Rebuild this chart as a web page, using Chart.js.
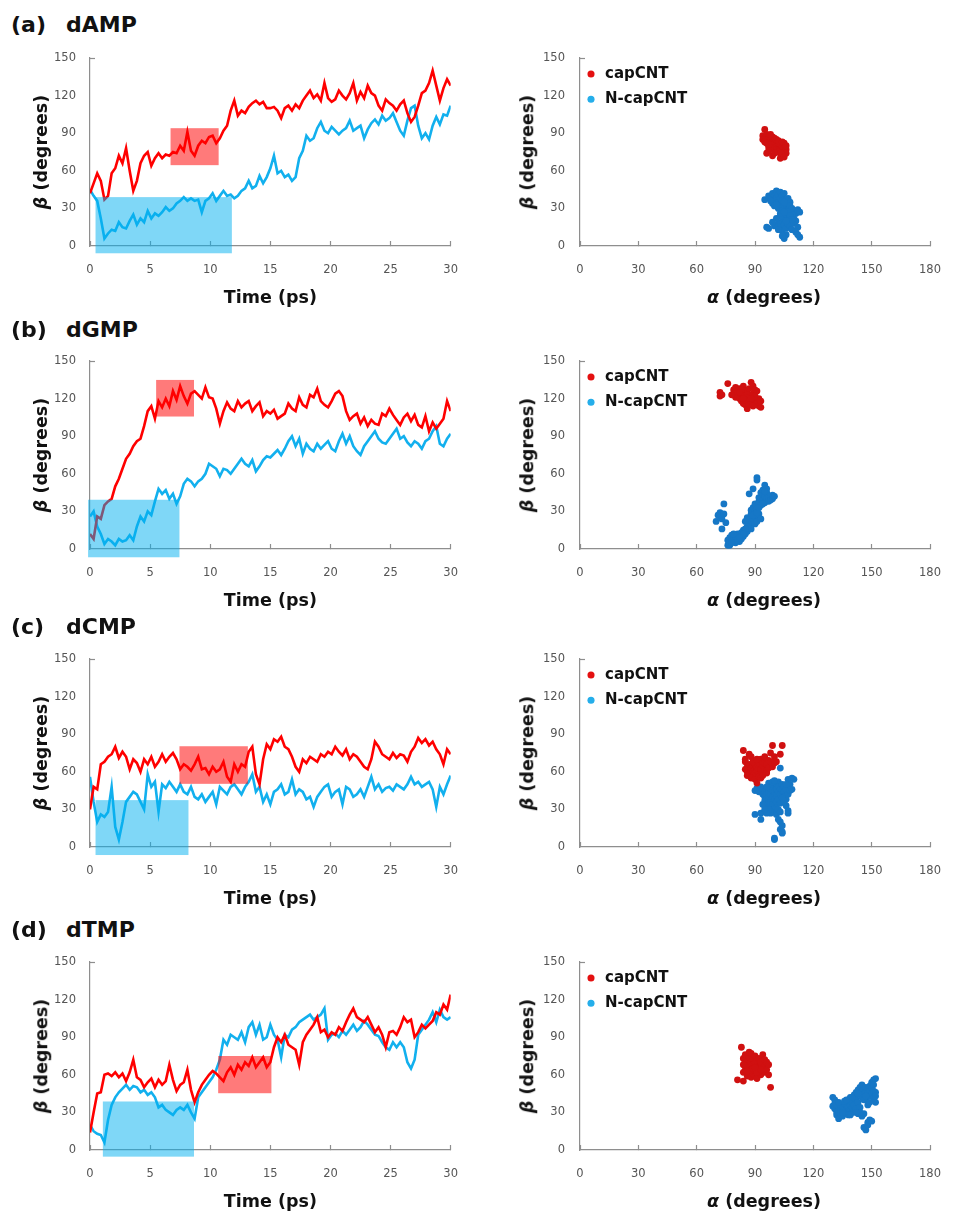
<!DOCTYPE html>
<html>
<head>
<meta charset="utf-8">
<script src="https://cdn.jsdelivr.net/npm/chart.js@4.4.1/dist/chart.umd.min.js"></script>
<style>
  body { margin: 0; background: #fff; width: 963px; height: 1214px; overflow: hidden; position: relative; font-family: "DejaVu Sans", sans-serif; }
  canvas { position: absolute; }
  .tag { position: absolute; font-weight: bold; font-size: 22px; line-height: 1; color: #111; transform: translateY(-50%); white-space: nowrap; }
  .ytitle { position: absolute; font-weight: bold; font-size: 17.5px; line-height: 1; color: #111; white-space: nowrap; transform: translate(-50%, -50%) rotate(-90deg); }
  .xtitle { position: absolute; font-weight: bold; font-size: 17.5px; line-height: 1; color: #111; white-space: nowrap; transform: translate(-50%, -50%); }
</style>
</head>
<body>
<script>
// ---- data ----
var panelTags = ['(a)', '(b)', '(c)', '(d)'];
var panelNames = ['dAMP', 'dGMP', 'dCMP', 'dTMP'];
var seriesNames = ['capCNT', 'N-capCNT'];

var timeTicks = [0, 5, 10, 15, 20, 25, 30];
var alphaTicks = [0, 30, 60, 90, 120, 150, 180];
var betaTicks = [0, 30, 60, 90, 120, 150];

var timePs = [0,0.3,0.6,0.9,1.2,1.5,1.8,2.1,2.4,2.7,3,3.3,3.6,3.9,4.2,4.5,4.8,5.1,5.4,5.7,
  6,6.3,6.6,6.9,7.2,7.5,7.8,8.1,8.4,8.7,9,9.3,9.6,9.9,10.2,10.5,10.8,11.1,11.4,11.7,
  12,12.3,12.6,12.9,13.2,13.5,13.8,14.1,14.4,14.7,15,15.3,15.6,15.9,16.2,16.5,16.8,17.1,17.4,17.7,
  18,18.3,18.6,18.9,19.2,19.5,19.8,20.1,20.4,20.7,21,21.3,21.6,21.9,22.2,22.5,22.8,23.1,23.4,23.7,
  24,24.3,24.6,24.9,25.2,25.5,25.8,26.1,26.4,26.7,27,27.3,27.6,27.9,28.2,28.5,28.8,29.1,29.4,29.7,30];

// beta vs time, capCNT / N-capCNT
var dampCap = [42,50,58,52,37,40,58,62,72,66, 78,60,44,52,66,72,75,64,70,74, 70,73,72,75,74,80,76,91,76,72,
  80,84,82,87,88,82,86,92,96,108, 116,104,108,106,111,114,116,113,115,110, 110,111,108,102,110,112,108,113,110,116,
  120,124,118,121,116,130,118,115,117,124, 120,117,122,130,116,123,118,128,122,120, 112,108,117,114,112,108,113,116,106,99,
  103,112,122,124,130,140,128,116,126,133, 128];
var dampNcap = [45,40,36,22,6,10,13,12,19,15, 14,20,25,17,22,19,28,22,26,24, 27,31,28,30,34,36,39,36,38,36,
  37,27,36,38,42,36,40,44,40,41, 38,40,44,46,52,46,48,56,50,55, 62,72,58,60,55,57,52,55,70,76,
  88,84,86,94,99,92,90,95,92,89, 92,94,100,92,94,96,86,93,98,101, 97,104,100,102,106,99,92,88,100,110,
  112,96,86,90,85,96,103,97,105,104, 112];
var dgmpCap = [12,8,26,24,35,38,40,50,56,64, 72,76,82,86,88,98,110,114,104,118, 113,120,114,126,119,130,122,116,124,126,
  123,120,129,121,120,112,100,110,117,112, 110,118,113,116,118,110,114,117,106,110, 108,111,104,106,108,116,112,110,121,115,
  113,123,121,128,118,115,113,118,124,126, 122,110,103,106,108,100,105,98,103,100, 99,108,106,112,107,103,99,105,108,102,
  107,99,97,106,94,101,96,100,104,118, 110];
var dgmpNcap = [26,30,18,12,4,8,6,3,8,6, 7,11,7,18,26,22,30,27,38,48, 44,47,40,44,36,42,52,56,54,50,
  54,56,60,68,66,64,58,64,63,60, 64,68,72,68,66,71,62,66,71,74, 73,76,79,75,80,86,90,82,88,76,
  84,80,78,84,80,83,86,80,78,86, 92,84,90,82,78,75,82,86,90,94, 88,85,84,88,92,96,88,90,85,82,
  86,84,80,86,88,94,98,84,82,88, 92];
var dcmpCap = [30,48,46,66,68,72,74,80,71,76, 72,62,70,67,60,70,66,72,64,68, 74,68,72,75,70,62,66,64,61,66,
  72,62,63,58,64,60,62,68,56,52, 66,60,66,64,76,80,58,50,70,82, 78,86,84,88,80,78,72,64,60,70,
  67,72,70,68,74,72,76,74,80,76, 73,78,70,74,72,68,64,62,70,84, 80,74,72,70,75,71,74,73,68,76,
  80,87,83,86,81,84,78,74,66,78, 74];
var dcmpNcap = [56,36,20,26,24,28,48,16,6,20, 36,40,44,42,36,30,58,48,52,28, 50,47,52,48,44,50,44,42,48,40,
  38,42,36,40,44,34,48,45,42,48, 50,46,42,48,52,58,44,48,36,42, 34,44,46,50,42,44,54,42,46,44,
  38,40,32,40,44,48,50,40,44,46, 34,48,46,40,42,46,40,48,56,46, 50,44,47,48,45,50,48,46,50,56,
  50,52,48,50,52,46,32,48,42,50, 57];
var dtmpCap = [14,30,45,46,60,61,59,62,58,61, 55,62,72,58,56,50,54,57,50,56, 52,55,68,56,47,52,54,64,48,38,
  46,52,56,60,63,61,58,55,62,66, 60,68,64,70,67,74,66,70,74,66, 70,82,90,86,92,84,82,80,68,86,
  92,96,100,106,94,96,90,94,92,98, 95,102,108,113,106,104,102,106,100,94, 98,92,82,94,95,92,98,106,102,104,
  90,94,100,97,100,103,110,108,116,112, 124];
var dtmpNcap = [20,15,13,12,6,24,36,42,46,49, 52,48,51,50,46,48,44,46,42,34, 36,32,30,28,32,34,32,36,30,25,
  42,46,50,54,58,64,72,88,84,92, 90,88,94,86,98,102,92,100,88,90, 100,92,88,74,92,90,96,98,102,104,
  106,108,104,106,108,113,88,92,93,90, 95,92,96,100,95,98,103,100,96,92, 91,86,82,80,86,82,86,82,70,65,
  72,92,96,100,104,110,102,112,106,104, 106];

// shaded windows [time from, time to, beta from, beta to]
var dampCapBox = [6.7, 10.7, 64.5, 94];
var dampNcapBox = [0.46, 11.8, -5.8, 39];
var dgmpCapBox = [5.5, 8.65, 105.7, 134.9];
var dgmpNcapBox = [-0.16, 7.44, -6.6, 39.3];
var dcmpCapBox = [7.44, 13.13, 50.4, 80.4];
var dcmpNcapBox = [0.46, 8.19, -6.4, 37.4];
var dtmpCapBox = [10.66, 15.09, 45.3, 75];
var dtmpNcapBox = [1.07, 8.65, -5.3, 38.7];

// alpha / beta scatter [alpha, beta]
var dampCapPts = [[95,93],[94,88],[95,86],[96,89],[96,84],[97,87],[97,85],[98,83],[98,86],[99,84],[99,81],[100,83],[100,80],
  [101,82],[101,79],[102,81],[102,78],[103,80],[103,77],[104,79],[104,76],[105,82],[105,78],[105,75],[106,77],[106,74],
  [104,73],[103,70],[99,72],[96,74],[97,79],[98,78],[100,77],[101,76],[102,75],[103,74],[94,85],[95,83],[96,82],[97,81],
  [99,87],[100,86],[98,89],[101,85],[102,84],[104,83],[106,80],[105,71],[100,74],[97,76]];
var dampNcapPts = [[95,37],[97,40],[98,38],[99,42],[100,40],[100,36],[101,44],[101,38],[102,41],[102,35],[103,43],[103,38],
  [103,33],[104,40],[104,36],[105,42],[105,31],[106,37],[106,34],[107,38],[107,29],[108,35],[108,32],[99,34],[98,36],[100,32],
  [102,30],[104,28],[101,33],[105,35],[109,30],[110,28],[111,26],[112,29],[113,27],[110,22],[109,25],[108,20],[107,23],[106,26],
  [105,22],[104,20],[103,24],[102,18],[101,22],[100,16],[99,19],[103,15],[104,12],[105,17],[106,14],[107,18],[108,16],[109,13],
  [110,18],[111,20],[112,15],[111,11],[106,9],[105,6],[104,8],[113,7],[112,9],[97,14],[96,15],[102,13],[103,26],[107,27],
  [108,24],[109,21],[106,20],[105,27]];
var dgmpCapPts = [[72,122],[72,125],[73,123],[76,132],[79,127],[80,124],[80,121],[81,126],[81,123],[82,120],[82,128],[83,124],
  [83,118],[84,130],[84,122],[85,126],[85,119],[85,115],[86,112],[86,124],[87,128],[87,121],[88,117],[88,133],[89,130],[89,124],
  [90,127],[90,119],[91,126],[91,116],[92,120],[92,114],[93,118],[93,113],[83,127],[84,116],[86,118],[82,125],[87,115],[89,114],
  [90,122],[78,123],[80,129],[84,120],[88,120]];
var dgmpNcapPts = [[70,22],[71,27],[72,26],[72,29],[73,16],[73,24],[74,28],[74,36],[75,21],[76,3],[76,7],[77,9],[77,5],[78,8],
  [78,11],[79,6],[79,9],[80,10],[80,7],[81,12],[81,9],[82,6],[82,11],[83,13],[83,8],[84,10],[84,15],[85,12],[85,22],[86,14],
  [86,25],[87,18],[87,23],[87,44],[88,28],[88,20],[88,31],[89,24],[89,33],[89,48],[90,26],[90,30],[90,20],[90,36],[91,22],
  [91,32],[91,57],[91,55],[92,28],[92,38],[92,41],[93,35],[93,45],[93,24],[93,40],[94,39],[94,44],[94,47],[95,37],[95,42],
  [95,51],[96,40],[96,45],[96,48],[97,41],[97,38],[98,42],[98,39],[99,40],[99,43],[100,42],[89,27],[88,16],[86,18],[85,16],
  [91,29],[92,33],[94,36],[95,46],[84,12],[82,9],[80,5],[79,12],[77,3],[78,5]];
var dcmpCapPts = [[84,77],[85,68],[85,62],[86,60],[86,64],[87,58],[87,66],[87,74],[88,61],[88,63],[88,72],[89,60],[89,65],
  [89,57],[90,62],[90,59],[90,66],[91,51],[91,61],[91,64],[92,63],[92,58],[92,67],[93,60],[93,62],[93,70],[94,65],[94,59],
  [94,68],[95,62],[95,70],[95,72],[96,61],[96,66],[96,59],[97,63],[97,69],[98,68],[98,75],[99,81],[99,64],[100,72],[100,67],
  [101,68],[103,74],[104,81],[86,57],[88,55],[90,54],[92,56],[93,55],[94,57],[85,70],[89,68],[91,70]];
var dcmpNcapPts = [[90,26],[93,27],[93,22],[90,45],[91,47],[92,44],[93,48],[94,46],[94,42],[95,44],[95,40],[95,37],[96,46],
  [96,42],[96,38],[96,33],[97,51],[97,44],[97,39],[97,35],[98,47],[98,42],[98,36],[98,31],[99,49],[99,45],[99,40],[99,34],
  [99,29],[100,44],[100,38],[100,33],[100,28],[101,50],[101,46],[101,41],[101,36],[101,31],[102,52],[102,48],[102,44],[102,38],
  [102,22],[103,63],[103,46],[103,42],[103,35],[103,20],[103,14],[104,50],[104,45],[104,17],[104,11],[104,12],[105,48],[105,44],
  [105,40],[106,46],[106,38],[106,33],[107,42],[107,27],[107,29],[107,54],[108,45],[108,50],[109,55],[109,46],[110,54],[100,6],
  [100,7],[98,27],[97,30],[96,27],[94,34],[95,30],[99,52],[100,53],[101,26],[102,30],[103,28],[105,36],[106,50],[104,39],[96,48]];
var dtmpCapPts = [[81,56],[83,82],[84,55],[84,73],[84,62],[85,69],[85,76],[85,64],[86,71],[86,59],[86,67],[87,74],[87,62],
  [87,66],[88,70],[88,58],[88,64],[88,77],[89,72],[89,61],[89,68],[90,75],[90,63],[90,59],[90,69],[91,71],[91,66],[91,57],
  [92,73],[92,62],[92,67],[93,60],[93,70],[94,76],[94,65],[95,72],[95,67],[95,62],[96,70],[96,64],[97,68],[97,60],[98,50],
  [86,63],[87,78],[89,65],[91,62],[93,64],[84,68],[90,66]];
var dtmpNcapPts = [[130,42],[130,35],[131,33],[131,40],[132,30],[132,36],[132,28],[133,34],[133,31],[133,25],[134,33],[134,36],
  [134,29],[135,32],[135,35],[135,27],[136,34],[136,30],[136,37],[137,33],[137,29],[137,36],[138,31],[138,35],[138,40],[139,32],
  [139,36],[139,42],[140,30],[140,34],[140,38],[141,44],[141,31],[141,36],[142,46],[142,33],[142,40],[143,48],[143,38],[143,29],
  [144,50],[144,44],[144,34],[145,52],[145,47],[145,42],[145,27],[146,48],[146,44],[146,29],[146,18],[147,50],[147,46],[147,40],
  [147,16],[148,49],[148,45],[148,22],[148,20],[149,51],[149,47],[149,43],[149,24],[150,54],[150,49],[150,45],[150,23],[151,56],
  [151,52],[151,47],[151,41],[152,57],[152,46],[152,38],[152,43],[131,37],[133,38],[136,39],[138,28],[140,42],[143,45],[146,40],
  [148,36],[144,30],[142,30],[139,28],[135,30],[137,40],[147,43],[149,38]];

var capSeries = [dampCap, dgmpCap, dcmpCap, dtmpCap];
var ncapSeries = [dampNcap, dgmpNcap, dcmpNcap, dtmpNcap];
var capBoxes = [dampCapBox, dgmpCapBox, dcmpCapBox, dtmpCapBox];
var ncapBoxes = [dampNcapBox, dgmpNcapBox, dcmpNcapBox, dtmpNcapBox];
var capPoints = [dampCapPts, dgmpCapPts, dcmpCapPts, dtmpCapPts];
var ncapPoints = [dampNcapPts, dgmpNcapPts, dcmpNcapPts, dtmpNcapPts];

// ---- layout / style ----
var plotTops = [58, 361, 659, 962];
var titleYs = [25, 330, 627, 930];
var plotH = 188;
var axisGray = '#8e8e8e';
var tickColor = '#555';
var lineRed = '#ff0000', lineCyan = '#12b0ee';
var dotRed = '#d01010', dotBlue = '#1677c6';
var legendDots = ['#e41010', '#25aeea'];
var capShade = 'rgba(255,0,0,0.52)', ncapShade = 'rgba(0,176,240,0.5)';

function toXY(xs, ys) { return ys.map(function (v, i) { return { x: xs[i], y: v }; }); }
function toPts(list) { return list.map(function (p) { return { x: p[0], y: p[1] }; }); }

// shaded windows drawn over the lines
var shadePlugin = {
  id: 'shade',
  afterDatasetsDraw: function (chart, args, opts) {
    var xs = chart.scales.x, ys = chart.scales.y, ctx = chart.ctx;
    (opts.boxes || []).forEach(function (b) {
      var x0 = xs.getPixelForValue(b.r[0]), x1 = xs.getPixelForValue(b.r[1]);
      var y0 = ys.getPixelForValue(b.r[2]), y1 = ys.getPixelForValue(b.r[3]);
      ctx.save();
      ctx.fillStyle = b.color;
      ctx.fillRect(x0, y1, x1 - x0, y0 - y1);
      ctx.restore();
    });
  }
};

// put the in-plot legend in the top-left corner
var legendSpot = {
  id: 'legendSpot',
  afterLayout: function (chart) {
    var L = chart.legend;
    if (!L || !L.options.display) return;
    var a = chart.chartArea;
    L.left = a.left - 5.8;
    L.top = a.top - 1.8;
    L.right = a.right;
    L.bottom = a.bottom;
  }
};

function makeScales(xTicks, xTitle, yPad) {
  return {
    x: {
      type: 'linear', min: xTicks[0], max: xTicks[xTicks.length - 1],
      afterBuildTicks: function (s) { s.ticks = xTicks.map(function (v) { return { value: v }; }); },
      ticks: { color: tickColor, font: { family: 'DejaVu Sans', size: 11.5 }, padding: 22, maxRotation: 0, autoSkip: false },
      grid: { drawOnChartArea: false, tickLength: -5, tickColor: axisGray, tickWidth: 1.2 },
      border: { color: axisGray, width: 1.2 },
      title: { display: !!xTitle, text: xTitle || '', color: '#111', font: { family: 'DejaVu Sans', size: 17.5, weight: 'bold' }, padding: { top: 0, bottom: 3.5 } },
      afterFit: function (s) { s.height = 66; }
    },
    y: {
      type: 'linear', min: 0, max: 150,
      afterBuildTicks: function (s) { s.ticks = betaTicks.map(function (v) { return { value: v }; }); },
      ticks: { color: tickColor, font: { family: 'DejaVu Sans', size: 11.5 }, padding: yPad },
      grid: {
        drawOnChartArea: false, tickLength: -5, tickWidth: 1.2,
        tickColor: function (c) { return c.tick && c.tick.value === 150 ? axisGray : 'rgba(0,0,0,0)'; }
      },
      border: { color: axisGray, width: 1.2 },
      afterFit: function (s) { s.width = 90; }
    }
  };
}

function addCanvas(left, y, w, h) {
  var cv = document.createElement('canvas');
  cv.width = w; cv.height = h;
  cv.style.left = left + 'px'; cv.style.top = y + 'px';
  cv.style.width = w + 'px'; cv.style.height = h + 'px';
  document.body.appendChild(cv);
  return cv;
}

function addText(cls, html, x, y) {
  var d = document.createElement('div');
  d.className = cls;
  d.innerHTML = html;
  d.style.left = x + 'px';
  d.style.top = y + 'px';
  document.body.appendChild(d);
}

Chart.defaults.font.family = 'DejaVu Sans';

for (var i = 0; i < 4; i++) {
  var rowTop = plotTops[i];

  addText('tag', panelTags[i], 11, titleYs[i]);
  addText('tag', panelNames[i], 66, titleYs[i]);

  // time trace
  var lc = addCanvas(0, rowTop - 50, 480, 50 + plotH + 66);
  new Chart(lc, {
    type: 'line',
    data: {
      datasets: [
        { label: seriesNames[0], data: toXY(timePs, capSeries[i]), borderColor: lineRed, borderWidth: 2.6, pointRadius: 0, tension: 0 },
        { label: seriesNames[1], data: toXY(timePs, ncapSeries[i]), borderColor: lineCyan, borderWidth: 2.6, pointRadius: 0, tension: 0 }
      ]
    },
    options: {
      animation: false, responsive: false, events: [],
      layout: { padding: { left: 0, right: 18, top: 50, bottom: 0 } },
      plugins: {
        legend: { display: false }, tooltip: { enabled: false },
        shade: { boxes: [{ r: capBoxes[i], color: capShade }, { r: ncapBoxes[i], color: ncapShade }] }
      },
      scales: makeScales(timeTicks, 'Time (ps)', 19)
    },
    plugins: [shadePlugin]
  });
  addText('ytitle', '<i>β</i> (degrees)', 42, rowTop + plotH / 2);

  // alpha-beta scatter
  var sc = addCanvas(490, rowTop - 50, 473, 50 + plotH + 66);
  new Chart(sc, {
    type: 'scatter',
    data: {
      datasets: [
        { label: seriesNames[0], data: toPts(capPoints[i]), backgroundColor: dotRed, pointBackgroundColor: dotRed,
          pointBorderWidth: 0, pointRadius: 3.4, pointStyle: 'circle' },
        { label: seriesNames[1], data: toPts(ncapPoints[i]), backgroundColor: dotBlue, pointBackgroundColor: dotBlue,
          pointBorderWidth: 0, pointRadius: 3.4, pointStyle: 'circle' }
      ]
    },
    options: {
      animation: false, responsive: false, events: [],
      layout: { padding: { left: 0, right: 15, top: 50, bottom: 0 } },
      plugins: {
        tooltip: { enabled: false },
        legend: {
          position: 'chartArea', align: 'start',
          labels: {
            usePointStyle: true, boxWidth: 13, boxHeight: 5, padding: 10.3, color: '#111',
            font: { family: 'DejaVu Sans', size: 15, weight: 'bold' },
            generateLabels: function (chart) {
              var items = Chart.defaults.plugins.legend.labels.generateLabels(chart);
              items.forEach(function (it, k) { it.fillStyle = legendDots[k]; it.strokeStyle = legendDots[k]; it.lineWidth = 0; });
              return items;
            }
          }
        }
      },
      scales: makeScales(alphaTicks, '', 20)
    },
    plugins: [legendSpot]
  });
  addText('ytitle', '<i>β</i> (degrees)', 528, rowTop + plotH / 2);
  addText('xtitle', '<i>α</i> (degrees)', 764, rowTop + plotH + 52);
}
</script>
</body>
</html>
